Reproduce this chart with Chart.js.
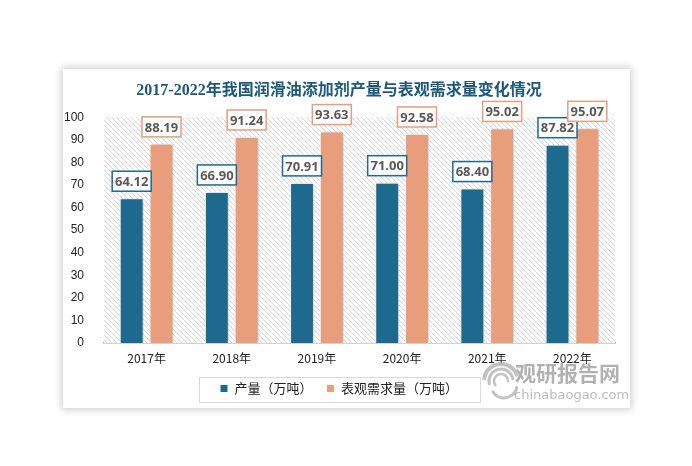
<!DOCTYPE html>
<html>
<head>
<meta charset="utf-8">
<script src="https://cdn.jsdelivr.net/npm/chart.js@4.4.1/dist/chart.umd.min.js"></script>
<style>
  html, body { margin: 0; padding: 0; background: #fff; }
  body { width: 692px; height: 466px; position: relative; overflow: hidden; }
  .card {
    position: absolute; left: 63px; top: 69px; width: 567px; height: 339px;
    background: #fff; box-shadow: 0 0 7px 2px rgba(0,0,0,0.18);
  }
  canvas { display: block; }
</style>
</head>
<body>
<div class="card"><canvas id="c" width="567" height="339"></canvas></div>
<script>
// chart data
const years  = ['2017年', '2018年', '2019年', '2020年', '2021年', '2022年'];
const output = [64.12, 66.90, 70.91, 71.00, 68.40, 87.82];
const demand = [88.19, 91.24, 93.63, 92.58, 95.02, 95.07];
const seriesNames = ['产量（万吨）', '表观需求量（万吨）'];
const TITLE = '2017-2022年我国润滑油添加剂产量与表观需求量变化情况';

const BLUE   = '#1d6a8e';
const ORANGE = '#e89d7d';

// diagonal hatch for the plot background
function makeHatch() {
  const p = document.createElement('canvas');
  p.width = 5; p.height = 5;
  const g = p.getContext('2d');
  g.fillStyle = '#fff';
  g.fillRect(0, 0, 5, 5);
  g.strokeStyle = '#d6d6d6';
  g.lineWidth = 1;
  g.beginPath();
  g.moveTo(-1, -1); g.lineTo(6, 6);
  g.moveTo(-1, 4);  g.lineTo(1, 6);
  g.moveTo(4, -1);  g.lineTo(6, 1);
  g.stroke();
  return g.createPattern(p, 'repeat');
}

const hatchBg = {
  id: 'hatchBg',
  beforeDatasetsDraw(chart) {
    const { ctx, chartArea: a } = chart;
    ctx.save();
    ctx.fillStyle = makeHatch();
    ctx.fillRect(a.left, a.top, a.right - a.left, a.bottom - a.top);
    ctx.restore();
  }
};

const barShadow = {
  id: 'barShadow',
  beforeDatasetDraw(chart) {
    const ctx = chart.ctx;
    ctx.save();
    ctx.shadowColor = 'rgba(0,0,0,0.25)';
    ctx.shadowBlur = 4;
    ctx.shadowOffsetX = 1;
  },
  afterDatasetDraw(chart) { chart.ctx.restore(); }
};

// boxed value labels above the bars
const boxLabels = {
  id: 'boxLabels',
  afterDatasetsDraw(chart) {
    const ctx = chart.ctx;
    ctx.save();
    ctx.font = 'bold 13px "Open Sans", "Liberation Sans", sans-serif';
    ctx.textAlign = 'center';
    ctx.textBaseline = 'middle';
    chart.data.datasets.forEach((ds, di) => {
      chart.getDatasetMeta(di).data.forEach((bar, i) => {
        const txt = ds.data[i].toFixed(2);
        const w = 39, h = 20;
        const x = bar.x - w / 2, y = bar.y - 7 - h;
        ctx.fillStyle = '#fff';
        ctx.fillRect(x, y, w, h);
        ctx.strokeStyle = ds.backgroundColor;
        ctx.lineWidth = 1.5;
        ctx.strokeRect(x, y, w, h);
        ctx.fillStyle = '#595959';
        ctx.fillText(txt, bar.x, y + h / 2 + 1);
      });
    });
    ctx.restore();
  }
};

// frame round the legend + site watermark
const extras = {
  id: 'extras',
  afterDraw(chart) {
    const ctx = chart.ctx;
    const boxes = chart.legend.legendHitBoxes;
    if (boxes && boxes.length) {
      const l = Math.min(...boxes.map(b => b.left)) - 21;
      const r = Math.max(...boxes.map(b => b.left + b.width)) + 22;
      const cy = boxes[0].top + boxes[0].height / 2;
      ctx.save();
      ctx.strokeStyle = '#d9d9d9';
      ctx.lineWidth = 1;
      ctx.strokeRect(Math.round(l) + 0.5, Math.round(cy - 12) + 0.5, Math.round(r - l), 25);
      ctx.restore();
    }

    // watermark
    ctx.save();
    ctx.globalAlpha = 0.7;
    ctx.strokeStyle = '#a8a8a8';
    ctx.lineCap = 'round';
    const lx = 438, ly = 312;
    [[17, 4, 3.3, 5.9], [12, 3, 2.9, 6.1], [7, 2.5, 2.5, 6.3]].forEach(([rad, lw, a0, a1]) => {
      ctx.lineWidth = lw;
      ctx.beginPath();
      ctx.arc(lx, ly, rad, a0, a1);
      ctx.stroke();
    });
    ctx.beginPath();
    ctx.arc(lx + 3, ly + 4, 13, 0.2, 2.6);
    ctx.lineWidth = 3;
    ctx.stroke();
    ctx.fillStyle = '#909090';
    ctx.textAlign = 'left';
    ctx.textBaseline = 'middle';
    ctx.font = 'bold 21px "Noto Sans CJK SC", sans-serif';
    ctx.fillText('观研报告网', 452, 304);
    ctx.font = '13px "DejaVu Sans", sans-serif';
    ctx.fillStyle = '#a0a0a0';
    ctx.fillText('chinabaogao.com', 451, 327);
    ctx.restore();
  }
};

new Chart(document.getElementById('c'), {
  type: 'bar',
  data: {
    labels: years,
    datasets: [
      { label: seriesNames[0], data: output, backgroundColor: BLUE, borderColor: '#fff', borderWidth: 1 },
      { label: seriesNames[1], data: demand, backgroundColor: ORANGE, borderColor: '#fff', borderWidth: 1 },
    ],
  },
  options: {
    responsive: false,
    animation: false,
    categoryPercentage: 0.7,
    barPercentage: 0.8,
    layout: { padding: { left: 0, right: 15, top: 0, bottom: 3 } },
    plugins: {
      title: {
        display: true, text: TITLE, color: '#1d5878',
        font: { size: 16, weight: 'bold', family: '"Liberation Serif", "Noto Sans CJK SC", serif' },
        padding: { top: 12, bottom: 17 },
      },
      legend: {
        position: 'bottom',
        labels: {
          color: '#222', boxWidth: 8, boxHeight: 8, padding: 14,
          font: { size: 13, family: '"Noto Sans CJK SC", sans-serif' },
        },
      },
      tooltip: { enabled: false },
    },
    scales: {
      x: {
        grid: { display: false },
        border: { color: '#a6a6a6', width: 1.5 },
        ticks: { color: '#222', padding: 0, font: { size: 12, family: '"Noto Sans CJK SC", sans-serif' } },
        afterFit(s) { s.height = 25; },
      },
      y: {
        min: 0, max: 100,
        grid: { display: false },
        border: { display: false },
        ticks: { stepSize: 10, color: '#222', padding: 12, font: { size: 12, family: '"Liberation Sans", sans-serif' } },
        afterFit(s) { s.width = 41; },
      },
    },
  },
  plugins: [hatchBg, barShadow, boxLabels, extras],
});
</script>
</body>
</html>
